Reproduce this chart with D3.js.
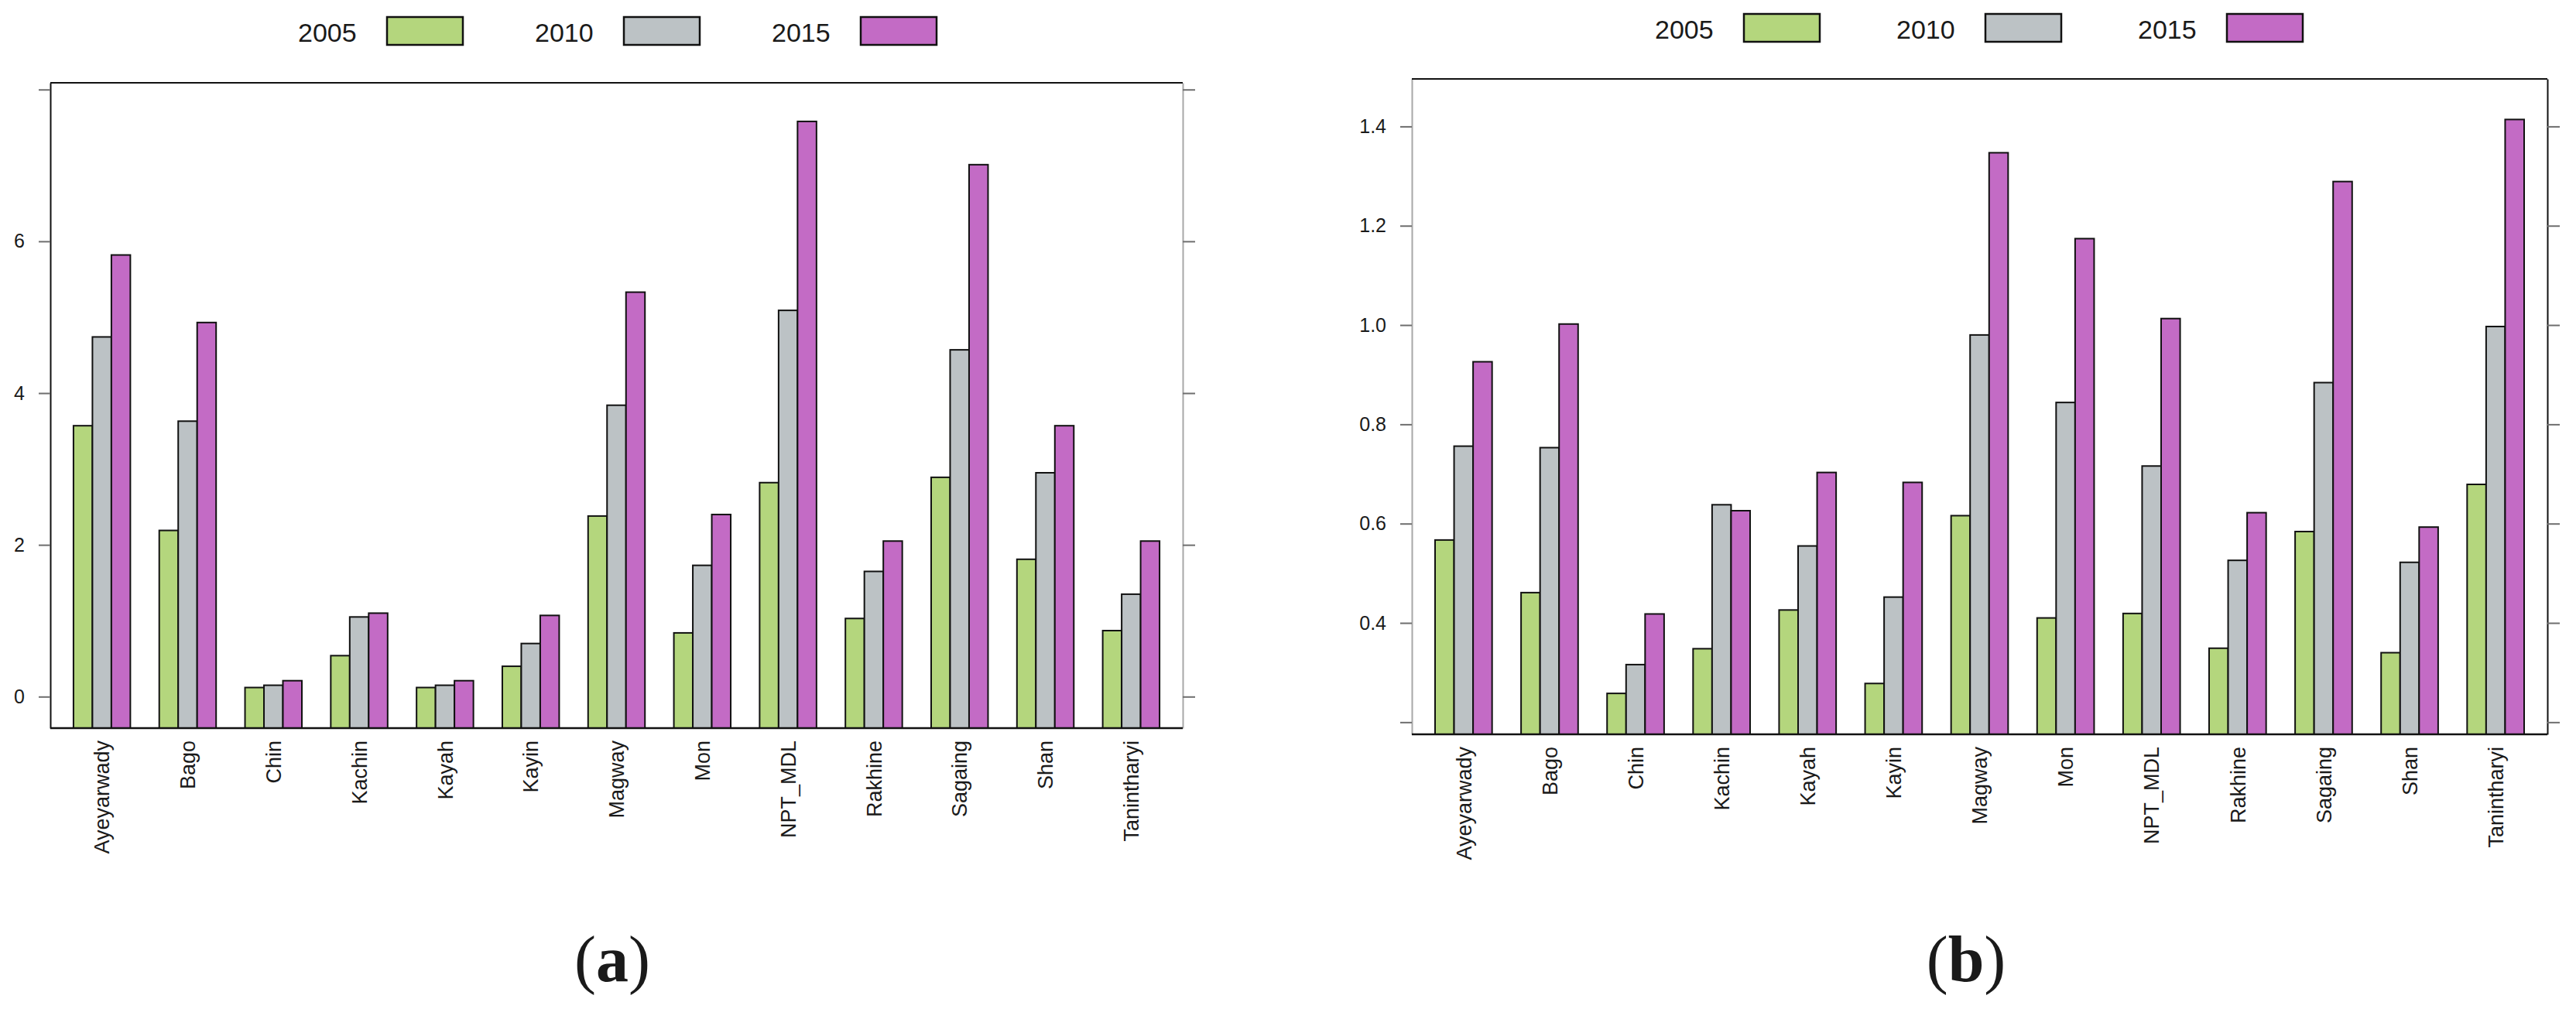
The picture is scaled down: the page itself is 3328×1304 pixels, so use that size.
<!DOCTYPE html>
<html>
<head>
<meta charset="utf-8">
<script src="https://cdn.jsdelivr.net/npm/d3@7"></script>
<style>
  body { margin: 0; background: #fff; }
  text { font-family: "Liberation Sans", Arial, sans-serif; fill: #1a1a1a; }
</style>
</head>
<body>
<script>
// regions and years shared by both panels
var regions = ["Ayeyarwady", "Bago", "Chin", "Kachin", "Kayah", "Kayin", "Magway",
               "Mon", "NPT_MDL", "Rakhine", "Sagaing", "Shan", "Tanintharyi"];
var years = ["2005", "2010", "2015"];

// panel (a)
var a2005 = [3.57, 2.19, 0.12, 0.54, 0.12, 0.40, 2.38, 0.84, 2.82, 1.03, 2.89, 1.81, 0.87];
var a2010 = [4.74, 3.63, 0.15, 1.05, 0.15, 0.70, 3.84, 1.73, 5.09, 1.65, 4.57, 2.95, 1.35];
var a2015 = [5.82, 4.93, 0.21, 1.10, 0.21, 1.07, 5.33, 2.40, 7.58, 2.05, 7.01, 3.57, 2.05];
var aTicks = [0, 2, 4, 6, 8];
var aTickLabels = ["0", "2", "4", "6", ""];

// panel (b)
var b2005 = [0.567, 0.461, 0.258, 0.348, 0.426, 0.278, 0.616, 0.410, 0.419, 0.349, 0.584, 0.340, 0.679];
var b2010 = [0.756, 0.753, 0.316, 0.638, 0.555, 0.452, 0.980, 0.844, 0.716, 0.526, 0.884, 0.522, 0.997];
var b2015 = [0.926, 1.002, 0.418, 0.626, 0.703, 0.683, 1.347, 1.174, 1.013, 0.622, 1.289, 0.593, 1.414];
var bTicks = [0.2, 0.4, 0.6, 0.8, 1.0, 1.2, 1.4];
var bTickLabels = ["", "0.4", "0.6", "0.8", "1.0", "1.2", "1.4"];

var fills = ["#b4d67d", "#bcc2c5", "#c36bc5"];

var svg = d3.select("body")
  .append("svg")
  .attr("width", 3328)
  .attr("height", 1304)
  .style("background-color", "white");

function drawPanel(p) {
  var series = [p.s2005, p.s2010, p.s2015];
  var g = svg.append("g").attr("class", "panel-" + p.tag);

  var x = d3.scaleBand()
    .domain(regions)
    .range([p.left, p.right])
    .paddingInner(0.337)
    .paddingOuter(0.27);
  var xSub = d3.scaleBand()
    .domain(years)
    .range([0, x.bandwidth()]);
  var y = d3.scaleLinear()
    .domain(p.yDomain)
    .range([p.bottom, p.top]);

  // bars, drawn up from the bottom of the plot box
  years.forEach(function(yr, k) {
    g.append("g")
      .selectAll("rect")
      .data(series[k])
      .enter()
      .append("rect")
      .attr("x", (d, i) => x(regions[i]) + xSub(yr))
      .attr("y", d => y(d))
      .attr("width", xSub.bandwidth())
      .attr("height", d => y(p.yDomain[0]) - y(d))
      .attr("fill", fills[k])
      .attr("stroke", "#111")
      .attr("stroke-width", 2);
  });

  // left axis with labels
  var yAxis = d3.axisLeft(y)
    .tickValues(p.ticks)
    .tickFormat((d, i) => p.tickLabels[i])
    .tickSize(15)
    .tickSizeOuter(0)
    .tickPadding(18);
  var ga = g.append("g")
    .attr("transform", "translate(" + p.left + ",0)")
    .call(yAxis);
  ga.select(".domain").attr("stroke", p.leftColor).attr("stroke-width", 2);
  ga.selectAll(".tick line").attr("stroke", "#6e6e6e").attr("stroke-width", 2);
  ga.selectAll(".tick text")
    .style("font-family", "'Liberation Sans', Arial, sans-serif")
    .style("font-size", "25px")
    .attr("fill", "#1a1a1a");

  // right axis, ticks only
  var yAxisR = d3.axisRight(y)
    .tickValues(p.ticks)
    .tickFormat("")
    .tickSize(16)
    .tickSizeOuter(0);
  var gr = g.append("g")
    .attr("transform", "translate(" + p.right + ",0)")
    .call(yAxisR);
  gr.select(".domain").attr("stroke", p.rightColor).attr("stroke-width", 2);
  gr.selectAll(".tick line").attr("stroke", "#6e6e6e").attr("stroke-width", 2);

  // top and bottom edges of the box
  g.append("line")
    .attr("x1", p.left).attr("x2", p.right)
    .attr("y1", p.top).attr("y2", p.top)
    .attr("stroke", "#111").attr("stroke-width", 2);
  g.append("line")
    .attr("x1", p.left).attr("x2", p.right)
    .attr("y1", p.bottom).attr("y2", p.bottom)
    .attr("stroke", "#111").attr("stroke-width", 2.5);

  // vertical category labels
  g.append("g")
    .selectAll("text")
    .data(regions)
    .enter()
    .append("text")
    .attr("transform", d => "translate(" + (x(d) + x.bandwidth() / 2) + "," + (p.bottom + 16) + ") rotate(-90)")
    .attr("text-anchor", "end")
    .attr("dy", "0.36em")
    .style("font-size", "27px")
    .text(d => d);

  // legend across the top
  var lg = g.append("g")
    .attr("transform", "translate(" + p.legendX + "," + p.legendY + ")");
  years.forEach(function(yr, k) {
    lg.append("text")
      .attr("x", k * p.legendStep)
      .attr("y", 0)
      .style("font-size", "34px")
      .text(yr);
    lg.append("rect")
      .attr("x", k * p.legendStep + 115)
      .attr("y", -32)
      .attr("width", 98)
      .attr("height", 36)
      .attr("fill", fills[k])
      .attr("stroke", "#111")
      .attr("stroke-width", 2.5);
  });

  // panel letter
  var lt = g.append("text")
    .attr("x", p.letterX)
    .attr("y", 1268)
    .attr("text-anchor", "middle")
    .style("font-family", "'Liberation Serif', 'DejaVu Serif', serif")
    .style("font-size", "84px");
  lt.append("tspan").text("(");
  lt.append("tspan").style("font-weight", "bold").text(p.tag);
  lt.append("tspan").text(")");
}

drawPanel({
  tag: "a",
  s2005: a2005, s2010: a2010, s2015: a2015,
  ticks: aTicks, tickLabels: aTickLabels,
  yDomain: [-0.415, 8.089],
  left: 65, right: 1528, top: 107, bottom: 941,
  leftColor: "#111", rightColor: "#a8a8a8",
  legendX: 385, legendY: 54, legendStep: 306,
  letterX: 791
});

drawPanel({
  tag: "b",
  s2005: b2005, s2010: b2010, s2015: b2015,
  ticks: bTicks, tickLabels: bTickLabels,
  yDomain: [0.1756, 1.4957],
  left: 1824, right: 3291, top: 102, bottom: 949,
  leftColor: "#a8a8a8", rightColor: "#111",
  legendX: 2138, legendY: 50, legendStep: 312,
  letterX: 2540
});
</script>
</body>
</html>
